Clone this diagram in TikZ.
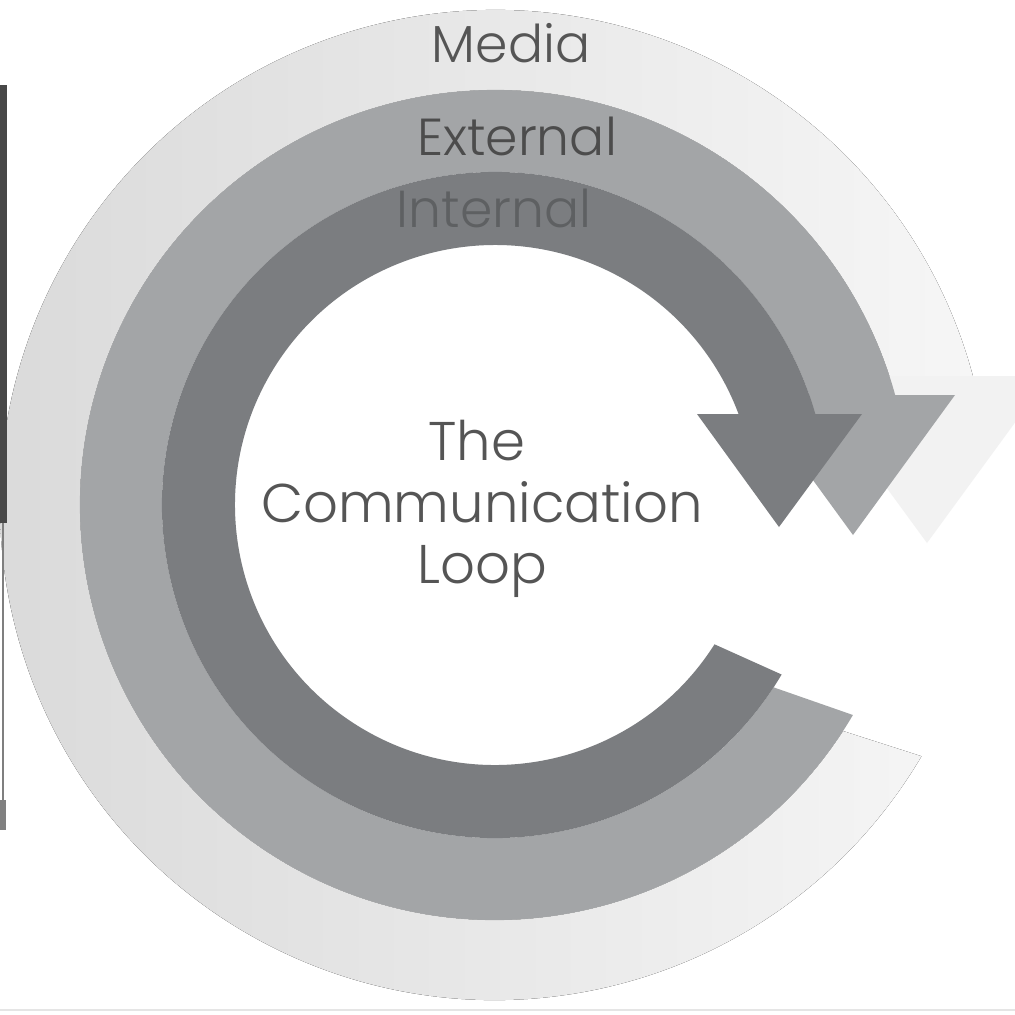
\documentclass[tikz,border=0pt]{standalone}
\usepackage{fontspec}
\setmainfont{Poppins}[UprightFont={* Light}]
\usepackage{tikz}
\definecolor{mediagray}{HTML}{D9D9D9}
\definecolor{mediafade}{HTML}{F6F6F6}
\definecolor{extgray}{HTML}{A3A5A7}
\definecolor{intgray}{HTML}{7B7D80}
\definecolor{textgray}{HTML}{555555}
\definecolor{intlabelgray}{HTML}{5E6062}
\definecolor{stripgray}{HTML}{484848}
\def\ringfont{\fontsize{14.8}{17}\selectfont}
\def\loopfont{\fontsize{15.5}{17.6}\selectfont}
\tikzset{mediaband/.style={left color=mediagray, right color=mediafade}}
\tikzset{extband/.style={fill=extgray}}
\tikzset{intband/.style={fill=intgray}}
\tikzset{ringlabel/.style={anchor=base, inner sep=0pt, font=\ringfont, text=textgray}}
\tikzset{looplabel/.style={anchor=base, inner sep=0pt, font=\loopfont, text=textgray}}

\begin{document}
\begin{tikzpicture}[x=0.01cm, y=0.01cm]
\useasboundingbox (-495,-509) rectangle (520,505);
\clip (-495,-509) rectangle (520,505);
\fill[white] (-495,-509) rectangle (520,505);

\fill[mediaband] (-33:415) arc[start angle=-33, end angle=-347, radius=415]
  -- (-347:495) arc[start angle=-347, end angle=-30.5, radius=495] -- cycle;
\fill[mediafade!85!mediagray] (310,129) -- (554,129) -- (432,-38) -- cycle;

\fill[extband] (-33.2:333) arc[start angle=-33.2, end angle=-346, radius=333]
  -- (-346:415) arc[start angle=-346, end angle=-30.4, radius=415] -- cycle;
\fill[extband] (256,110) -- (460,110) -- (358,-30) -- cycle;

\fill[intband] (-32.4:260) arc[start angle=-32.4, end angle=-345, radius=260]
  -- (-345:333) arc[start angle=-345, end angle=-30.6, radius=333] -- cycle;
\fill[intband] (202,91) -- (367,91) -- (284,-22) -- cycle;

\node[ringlabel] (media) at (16,443) {Media};
\node[ringlabel, text=black!70] (external) at (22,350) {External};
\node[ringlabel, text=intlabelgray] (internal) at (-1,278) {Internal};

\node[looplabel] (the) at (-18,45) {The};
\node[looplabel] (communication) at (-13,-17) {Communication};
\node[looplabel] (loop) at (-13,-78) {Loop};

\fill[stripgray] (-495,420) rectangle (-488,-18);
\draw[stripgray!70, line width=0.6pt] (-492,-18) -- (-492,-295);
\fill[gray] (-495,-295) rectangle (-489,-325);
\draw[gray!20, line width=0.5pt] (-495,-505) -- (520,-505);
\end{tikzpicture}
\end{document}
